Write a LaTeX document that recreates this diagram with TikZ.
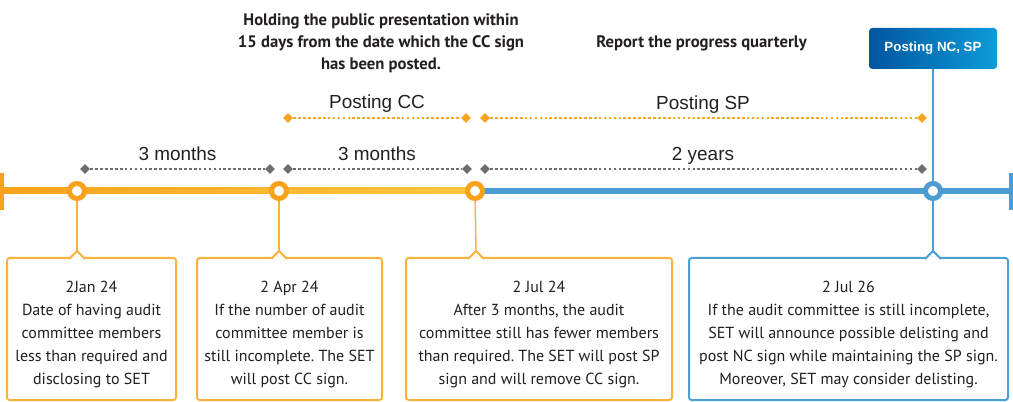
\documentclass[tikz,border=0pt]{standalone}
\usepackage{fontspec}
\setmainfont{PT Sans}
\newfontfamily\labelfont{Liberation Sans}
\usetikzlibrary{calc,shapes.geometric,shadows}
\frenchspacing
\definecolor{tlorange}{RGB}{248,162,28}
\definecolor{tlyellow}{RGB}{255,199,62}
\definecolor{tlblue}{RGB}{74,156,211}
\definecolor{boxorange}{RGB}{251,178,60}
\definecolor{boxblue}{RGB}{74,159,214}
\definecolor{spangrey}{RGB}{109,110,113}
\definecolor{spanorange}{RGB}{248,164,30}
\definecolor{textdark}{RGB}{35,31,32}
\definecolor{ncdark}{RGB}{0,86,160}
\definecolor{nclight}{RGB}{13,155,216}
\newcommand{\datestamp}[1]{\rule{0pt}{16.5pt}#1}

\begin{document}
\begin{tikzpicture}[x=0.75pt, y=-0.75pt]
\tikzstyle{milestone} = [circle, fill=white, minimum size=11.25pt, inner sep=0pt, line width=3.75pt, drop shadow={opacity=.2, shadow xshift=0pt, shadow yshift=-1.2pt}]
\tikzstyle{spanmark} = [diamond, inner sep=0pt, minimum size=7.5pt]
\tikzstyle{spanline} = [line width=1.4pt, dash pattern=on 2pt off 1.7pt]
\tikzstyle{spantext} = [anchor=base, text=textdark, font=\labelfont\fontsize{14.2}{16}\selectfont]
\tikzstyle{headtext} = [align=center, text=textdark, font=\bfseries\fontsize{12.5}{16.5}\selectfont]
\tikzstyle{infobox} = [rectangle, rounded corners=2pt, line width=1.5pt, fill=white, align=center, text=textdark, minimum height=106.5pt, font=\fontsize{12}{17.25}\selectfont]
\tikzstyle{link} = [line width=1.1pt]

\useasboundingbox (0,0) rectangle (1013,402);

% timeline
\coordinate (tlstart) at (2,191);
\coordinate (tlswitch) at (475,191);
\coordinate (tlend) at (1011,191);
\shade[left color=tlorange, right color=tlyellow] ($(tlstart)+(0,-3)$) rectangle ($(tlswitch)+(0,3)$);
\fill[tlblue] ($(tlswitch)+(0,-3)$) rectangle ($(tlend)+(0,3)$);
\draw[tlorange, line width=2.6pt] ($(tlstart)+(0,-18)$) -- ($(tlstart)+(0,19)$);
\draw[tlblue, line width=2.6pt] ($(tlend)+(0,-18)$) -- ($(tlend)+(0,19)$);

\node (jan) [milestone, draw=tlorange] at (77,191) {};
\node (apr) [milestone, draw=tlorange] at (279,191) {};
\node (jul) [milestone, draw=tlorange] at (475,191) {};
\node (jultwo) [milestone, draw=tlblue] at (933,191) {};

% spans
\node (ga) [spanmark, fill=spangrey] at (85,169) {};
\node (gb) [spanmark, fill=spangrey] at (270,169) {};
\node (gc) [spanmark, fill=spangrey] at (288,169) {};
\node (gd) [spanmark, fill=spangrey] at (467,169) {};
\node (ge) [spanmark, fill=spangrey] at (485,169) {};
\node (gf) [spanmark, fill=spangrey] at (922,169) {};
\draw[spanline, spangrey] (ga) -- (gb);
\draw[spanline, spangrey] (gc) -- (gd);
\draw[spanline, spangrey] (ge) -- (gf);

\node (oa) [spanmark, fill=spanorange] at (288,118) {};
\node (ob) [spanmark, fill=spanorange] at (466,118) {};
\node (oc) [spanmark, fill=spanorange] at (485,118) {};
\node (od) [spanmark, fill=spanorange] at (922,118) {};
\draw[spanline, spanorange] (oa) -- (ob);
\draw[spanline, spanorange] (oc) -- (od);

\node (monthsone) [spantext] at (177.5,161) {3 months};
\node (monthstwo) [spantext] at (377,161) {3 months};
\node (years) [spantext] at (703,161) {2 years};
\node (postcc) [spantext] at (377,109) {Posting CC};
\node (postsp) [spantext] at (703,110) {Posting SP};

\node (hearing) [headtext] at (381,43) {Holding the public presentation within\\15 days from the date which the CC sign\\has been posted.};
\node (report) [headtext] at (701.5,43) {Report the progress quarterly};

\node (ncbox) [rectangle, rounded corners=2.5pt, left color=ncdark, right color=nclight, minimum width=96pt, minimum height=30.75pt, text=white, font=\labelfont\bfseries\fontsize{10}{12}\selectfont] at (933,48.5) {Posting NC, SP};

% boxes
\node (boxjan) [infobox, draw=boxorange, minimum width=126.75pt] at (91.5,329) {\datestamp{2Jan 24}\\Date of having audit\\committee members\\less than required and\\disclosing to SET};
\node (boxapr) [infobox, draw=boxorange, minimum width=138.75pt] at (289.5,329) {\datestamp{2 Apr 24}\\If the number of audit\\committee member is\\still incomplete. The SET\\will post CC sign.};
\node (boxjul) [infobox, draw=boxorange, minimum width=199.5pt] at (539,329) {\datestamp{2 Jul 24}\\After 3 months, the audit\\committee still has fewer members\\than required. The SET will post SP\\sign and will remove CC sign.};
\node (boxjultwo) [infobox, draw=boxblue, minimum width=239.25pt] at (848.5,329) {\datestamp{2 Jul 26}\\If the audit committee is still incomplete,\\SET will announce possible delisting and\\post NC sign while maintaining the SP sign.\\Moreover, SET may consider delisting.};

% notches
\coordinate (tipjan) at (77,251);
\coordinate (tipapr) at (279,251);
\coordinate (tipjul) at (476,251);
\coordinate (tipjultwo) at (933,251);
\fill[white] ($(tipjan)+(-7,6.4)$) rectangle ($(tipjan)+(7,9.7)$);
\fill[white] ($(tipapr)+(-7,6.4)$) rectangle ($(tipapr)+(7,9.7)$);
\fill[white] ($(tipjul)+(-7,6.4)$) rectangle ($(tipjul)+(7,9.7)$);
\fill[white] ($(tipjultwo)+(-7,6.4)$) rectangle ($(tipjultwo)+(7,9.7)$);
\draw[boxorange, line width=1.5pt] ($(tipjan)+(-8,8)$) -- (tipjan) -- ($(tipjan)+(8,8)$);
\draw[boxorange, line width=1.5pt] ($(tipapr)+(-8,8)$) -- (tipapr) -- ($(tipapr)+(8,8)$);
\draw[boxorange, line width=1.5pt] ($(tipjul)+(-8,8)$) -- (tipjul) -- ($(tipjul)+(8,8)$);
\draw[boxblue, line width=1.5pt] ($(tipjultwo)+(-8,8)$) -- (tipjultwo) -- ($(tipjultwo)+(8,8)$);

\draw[link, boxorange] (jan) -- (tipjan);
\draw[link, boxorange] (apr) -- (tipapr);
\draw[link, boxorange] (jul) -- (tipjul);
\draw[link, boxblue] (ncbox) -- (jultwo);
\draw[link, boxblue] (jultwo) -- (tipjultwo);

\end{tikzpicture}
\end{document}
